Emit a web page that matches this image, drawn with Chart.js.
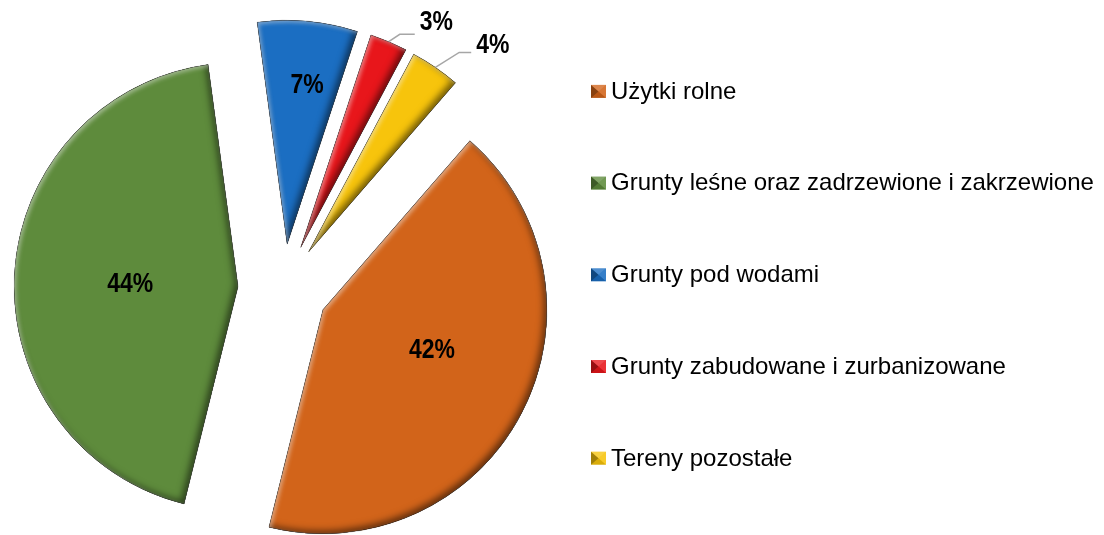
<!DOCTYPE html>
<html>
<head>
<meta charset="utf-8">
<script src="https://cdn.jsdelivr.net/npm/chart.js@4.4.1/dist/chart.umd.min.js"></script>
<style>
  html, body { margin: 0; padding: 0; background: #ffffff; }
  #wrap { width: 1104px; height: 535px; position: relative; }
</style>
</head>
<body>
<div id="wrap"><canvas id="c" width="1104" height="535"></canvas></div>
<script>
// ---- data ----
const categories = [
  'Użytki rolne',
  'Grunty leśne oraz zadrzewione i zakrzewione',
  'Grunty pod wodami',
  'Grunty zabudowane i zurbanizowane',
  'Tereny pozostałe'
];
const shares = [42.4, 43.9, 7.2, 2.7, 3.6];
const sliceColors = ['#D2641A', '#5E8B3C', '#1B6EC2', '#E8161B', '#F7C40C'];

// ---- style / layout constants ----
const EXPLODE = 45;
const labelPlacement = [
  { r: 160, da: -6.0 },
  { r: 153, da: -0.6 },
  { r: 207, da: 1.4 },
  { r: 310, da: 6.5, leader: true, ly: 14.7, llen: 15 },
  { r: 323, da: 6.0, leader: true, ly: 9, llen: 12 }
];

function wedgePath(ctx, arc) {
  ctx.beginPath();
  ctx.moveTo(arc.x, arc.y);
  ctx.arc(arc.x, arc.y, arc.outerRadius, arc.startAngle, arc.endAngle);
  ctx.closePath();
}
function innerShadow(ctx, arc, color, ox, oy, blur) {
  ctx.save();
  wedgePath(ctx, arc);
  ctx.clip();
  ctx.beginPath();
  ctx.rect(-4000, -4000, 9000, 9000);
  ctx.moveTo(arc.x, arc.y);
  ctx.arc(arc.x, arc.y, arc.outerRadius, arc.startAngle, arc.endAngle);
  ctx.closePath();
  ctx.shadowColor = color;
  ctx.shadowBlur = blur;
  ctx.shadowOffsetX = ox;
  ctx.shadowOffsetY = oy;
  ctx.fillStyle = '#000';
  ctx.fill('evenodd');
  ctx.restore();
}

const explodePlugin = {
  id: 'explodePie',
  beforeDatasetDraw(chart, args) {
    const ctx = chart.ctx;
    args.meta.data.forEach((arc) => {
      const mid = (arc.startAngle + arc.endAngle) / 2;
      ctx.save();
      ctx.translate(Math.cos(mid) * EXPLODE, Math.sin(mid) * EXPLODE);
      arc.draw(ctx);
      innerShadow(ctx, arc, 'rgba(0,0,0,0.55)', -3, -3, 7);
      innerShadow(ctx, arc, 'rgba(255,255,255,0.45)', 2, 2, 4);
      wedgePath(ctx, arc);
      ctx.lineWidth = 1;
      ctx.strokeStyle = 'rgba(0,0,0,0.18)';
      ctx.stroke();
      ctx.restore();
    });
    return false;
  }
};

function narrowAvailable() {
  const c = document.createElement('canvas').getContext('2d');
  c.font = 'bold 28px "Liberation Sans Narrow", monospace';
  const a = c.measureText('44%').width;
  c.font = 'bold 28px monospace';
  const b = c.measureText('44%').width;
  return Math.abs(a - b) > 0.5;
}
const HAS_NARROW = narrowAvailable();

function drawPct(ctx, text, cx, cy) {
  const size = 28;
  ctx.save();
  ctx.fillStyle = '#000';
  ctx.textAlign = 'center';
  ctx.textBaseline = 'alphabetic';
  const base = cy + 0.358 * size;
  if (HAS_NARROW) {
    ctx.font = 'bold ' + size + 'px "Liberation Sans Narrow"';
    ctx.fillText(text, cx, base);
  } else {
    ctx.font = 'bold ' + size + 'px "Liberation Sans", Arial, sans-serif';
    ctx.translate(cx, base);
    ctx.scale(0.82, 1);
    ctx.fillText(text, 0, 0);
  }
  ctx.restore();
}
function pctWidth(ctx, text) {
  ctx.save();
  let w;
  if (HAS_NARROW) { ctx.font = 'bold 28px "Liberation Sans Narrow"'; w = ctx.measureText(text).width; }
  else { ctx.font = 'bold 28px "Liberation Sans", Arial, sans-serif'; w = ctx.measureText(text).width * 0.82; }
  ctx.restore();
  return w;
}

const labelPlugin = {
  id: 'pctLabels',
  afterDatasetsDraw(chart) {
    const ctx = chart.ctx;
    const meta = chart.getDatasetMeta(0);
    meta.data.forEach((arc, i) => {
      const p = labelPlacement[i];
      const mid = (arc.startAngle + arc.endAngle) / 2;
      const a = mid + p.da * Math.PI / 180;
      const lx = arc.x + p.r * Math.cos(a);
      const ly = arc.y + p.r * Math.sin(a);
      const text = Math.round(shares[i]) + '%';
      if (p.leader) {
        const R = arc.outerRadius + EXPLODE;
        const sx = arc.x + R * Math.cos(mid);
        const sy = arc.y + R * Math.sin(mid);
        const w = pctWidth(ctx, text);
        const ex = lx - w / 2 - 5;
        const ey = ly + p.ly;
        ctx.save();
        ctx.strokeStyle = '#A6A6A6';
        ctx.lineWidth = 1.5;
        ctx.beginPath();
        ctx.moveTo(sx, sy);
        ctx.lineTo(ex - p.llen, ey);
        ctx.lineTo(ex, ey);
        ctx.stroke();
        ctx.restore();
      }
      drawPct(ctx, text, lx, ly);
    });
  }
};

const legendPlugin = {
  id: 'sideLegend',
  afterDraw(chart) {
    const ctx = chart.ctx;
    const labels = chart.data.labels;
    const colors = chart.data.datasets[0].backgroundColor;
    const x0 = 591, y0 = 91.4, step = 91.7, bw = 15, bh = 13;
    labels.forEach((lab, i) => {
      const cy = y0 + i * step;
      const bx = x0, by = cy - bh / 2;
      ctx.save();
      ctx.fillStyle = colors[i];
      ctx.fillRect(bx, by, bw, bh);
      const cx = bx + bw / 2, ccy = by + bh / 2;
      const tri = (pts, col) => {
        ctx.beginPath();
        ctx.moveTo(pts[0][0], pts[0][1]);
        ctx.lineTo(pts[1][0], pts[1][1]);
        ctx.lineTo(pts[2][0], pts[2][1]);
        ctx.closePath();
        ctx.fillStyle = col;
        ctx.fill();
      };
      tri([[bx, by], [bx + bw, by], [cx, ccy]], 'rgba(255,255,255,0.22)');
      tri([[bx, by], [bx, by + bh], [cx, ccy]], 'rgba(0,0,0,0.35)');
      tri([[bx + bw, by], [bx + bw, by + bh], [cx, ccy]], 'rgba(255,255,255,0.12)');
      tri([[bx, by + bh], [bx + bw, by + bh], [cx, ccy]], 'rgba(0,0,0,0.12)');
      ctx.fillStyle = '#000';
      ctx.font = '24px "Liberation Sans", Arial, sans-serif';
      ctx.textAlign = 'left';
      ctx.textBaseline = 'alphabetic';
      ctx.fillText(lab, 611, cy + 7.3);
      ctx.restore();
    });
  }
};

new Chart(document.getElementById('c'), {
  type: 'pie',
  data: {
    labels: categories,
    datasets: [{
      data: shares,
      backgroundColor: sliceColors,
      borderWidth: 0,
      clip: false
    }]
  },
  options: {
    responsive: false,
    animation: false,
    events: [],
    rotation: 41,
    layout: { padding: { left: 0, right: 538, top: 65, bottom: 22 } },
    plugins: {
      legend: { display: false },
      tooltip: { enabled: false }
    }
  },
  plugins: [explodePlugin, labelPlugin, legendPlugin]
});
</script>
</body>
</html>
